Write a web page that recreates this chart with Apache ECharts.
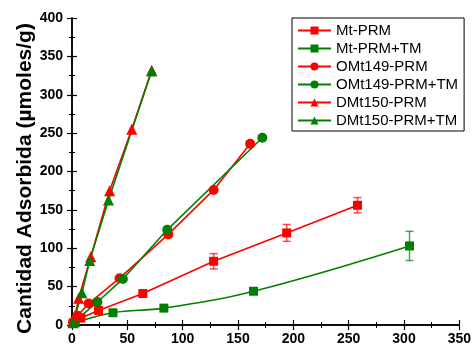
<!DOCTYPE html>
<html>
<head>
<meta charset="utf-8">
<script src="https://cdn.jsdelivr.net/npm/echarts@6/dist/echarts.min.js"></script>
<style>
  html, body { margin: 0; padding: 0; background: #fff; }
  #chart { width: 474px; height: 350px; }
</style>
</head>
<body>
<div id="chart"></div>
<script>
// datos: [x, y]
var mtPrm = [[1, 2], [8, 9], [24, 19], [64, 41], [128, 83], [194, 120], [258, 156]];
var mtPrmErr = [0, 0, 0, 0, 10, 11, 10];
var mtTm = [[3, 3], [37, 16], [83, 22], [164, 44], [305, 103]];
var mtTmErr = [0, 0, 0, 0, 19];
var omPrm = [[1, 4], [5, 12], [15, 28], [43, 61], [87, 118], [128, 176], [161, 236]];
var omTm = [[2, 4], [23, 30], [46, 60], [86, 124], [172, 244]];
var dmPrm = [[1, 5], [3, 13], [6, 35], [17, 89], [34, 175], [54, 255], [72, 332]];
var dmTm = [[1, 3], [9, 42], [16, 84], [33, 163], [72, 331]];

var names = ['Mt-PRM', 'Mt-PRM+TM', 'OMt149-PRM', 'OMt149-PRM+TM', 'DMt150-PRM', 'DMt150-PRM+TM'];
var xTicks = [0, 50, 100, 150, 200, 250, 300, 350];
var yTicks = [0, 50, 100, 150, 200, 250, 300, 350, 400];

var RED = '#ff0000';
var GREEN = '#008000';

function withErr(pts, err) {
  var out = [];
  pts.forEach(function (p, i) {
    if (err[i] > 0) out.push([p[0], p[1], err[i]]);
  });
  return out;
}

function lineSerie(name, data, color, symbol, size, smooth) {
  return {
    name: name,
    type: 'line',
    data: data,
    smooth: smooth || false,
    symbol: symbol,
    symbolSize: size,
    color: color,
    lineStyle: { color: color, width: 1.6 },
    itemStyle: { color: color },
    z: 3
  };
}

function errSerie(data, color) {
  return {
    type: 'custom',
    data: data,
    z: 2,
    silent: true,
    renderItem: function (params, api) {
      var x = api.value(0), y = api.value(1), e = api.value(2);
      var top = api.coord([x, y + e]);
      var bot = api.coord([x, y - e]);
      var w = 4;
      var st = { stroke: color, lineWidth: 1.5, opacity: 0.7 };
      return {
        type: 'group',
        children: [
          { type: 'line', shape: { x1: top[0], y1: top[1], x2: bot[0], y2: bot[1] }, style: st },
          { type: 'line', shape: { x1: top[0] - w, y1: top[1], x2: top[0] + w, y2: top[1] }, style: st },
          { type: 'line', shape: { x1: bot[0] - w, y1: bot[1], x2: bot[0] + w, y2: bot[1] }, style: st }
        ]
      };
    }
  };
}

var myChart = echarts.init(document.getElementById('chart'));

var axisFont = { color: '#000', fontSize: 14, fontWeight: 'bold', fontFamily: 'Arial, "Liberation Sans"' };

myChart.setOption({
  animation: false,
  backgroundColor: '#fff',
  grid: { left: 72, right: 12, top: 18, bottom: 25 },
  legend: {
    data: names,
    orient: 'vertical',
    left: 292,
    top: 18,
    width: 167,
    padding: [5, 6, 3, 5],
    itemGap: 3,
    itemWidth: 33,
    itemHeight: 10,
    borderColor: '#000',
    borderWidth: 1,
    textStyle: { color: '#000', fontSize: 15, lineHeight: 15, fontFamily: 'Arial, "Liberation Sans"' }
  },
  xAxis: [{
    type: 'value',
    min: 0, max: 350, interval: 50,
    axisLine: { lineStyle: { color: '#000', width: 1.5 } },
    axisTick: { length: 5, lineStyle: { color: '#000', width: 1.2 } },
    minorTick: { show: true, splitNumber: 2, length: 3, lineStyle: { color: '#000', width: 1 } },
    axisLabel: Object.assign({ margin: 7, formatter: function (v) { return xTicks.indexOf(v) >= 0 ? String(v) : ''; } }, axisFont),
    splitLine: { show: false }
  }, {
    type: 'value',
    position: 'top',
    min: 0, max: 350, interval: 50,
    axisLine: { lineStyle: { color: '#000', width: 1.5 } },
    axisTick: { length: 5, lineStyle: { color: '#000', width: 1.2 } },
    minorTick: { show: true, splitNumber: 2, length: 3, lineStyle: { color: '#000', width: 1 } },
    axisLabel: { show: false },
    splitLine: { show: false }
  }],
  yAxis: [{
    type: 'value',
    min: 0, max: 400, interval: 50,
    name: 'Cantidad Adsorbida (µmoles/g)',
    nameLocation: 'middle',
    nameGap: 36,
    nameMoveOverlap: false,
    nameTextStyle: { color: '#000', fontSize: 21, fontWeight: 'bold', fontFamily: 'Arial, "Liberation Sans"', padding: [0, 14, 0, 0] },
    axisLine: { show: true, lineStyle: { color: '#000', width: 1.5 } },
    axisTick: { show: true, length: 5, lineStyle: { color: '#000', width: 1.2 } },
    minorTick: { show: true, splitNumber: 2, length: 3, lineStyle: { color: '#000', width: 1 } },
    axisLabel: Object.assign({ margin: 9, formatter: function (v) { return yTicks.indexOf(v) >= 0 ? String(v) : ''; } }, axisFont),
    splitLine: { show: false }
  }, {
    type: 'value',
    position: 'right',
    min: 0, max: 400, interval: 50,
    axisLine: { show: true, lineStyle: { color: '#000', width: 1.5 } },
    axisTick: { show: true, length: 5, lineStyle: { color: '#000', width: 1.2 } },
    minorTick: { show: true, splitNumber: 2, length: 3, lineStyle: { color: '#000', width: 1 } },
    axisLabel: { show: false },
    splitLine: { show: false }
  }],
  series: [
    errSerie(withErr(mtPrm, mtPrmErr), RED),
    errSerie(withErr(mtTm, mtTmErr), GREEN),
    lineSerie(names[0], mtPrm, RED, 'rect', 9),
    lineSerie(names[1], mtTm, GREEN, 'rect', 9, 0.4),
    lineSerie(names[2], omPrm, RED, 'circle', 10),
    lineSerie(names[3], omTm, GREEN, 'circle', 10),
    lineSerie(names[4], dmPrm, RED, 'triangle', 11),
    lineSerie(names[5], dmTm, GREEN, 'triangle', 11)
  ]
});
</script>
</body>
</html>
